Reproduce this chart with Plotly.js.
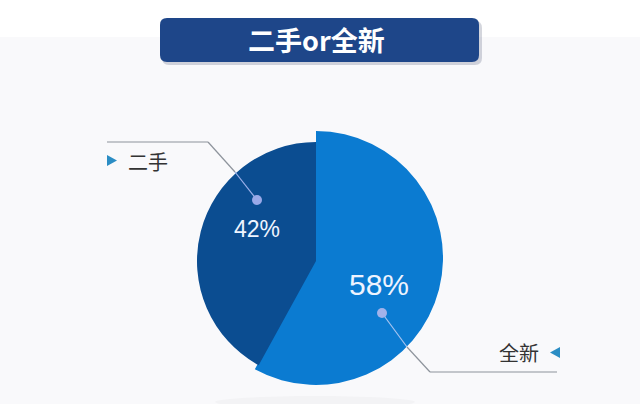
<!DOCTYPE html>
<html>
<head>
<meta charset="utf-8">
<script src="https://cdn.plot.ly/plotly-3.0.1.min.js"></script>
<style>html,body{margin:0;padding:0;background:#f9f9fb;}#chart{width:640px;height:404px;}</style>
</head>
<body>
<div id="chart"></div>
<script>
// ---- data ----
const chartTitle = '二手or全新';
const categories = ['全新', '二手'];
const values = [58, 42];
const sliceColors = ['#0b7bd1', '#0b4d91'];

// ---- helpers (pixel -> paper) ----
const W = 640, H = 404;
const X = px => px / W;
const Y = py => 1 - py / H;
function dom(cx, cy, r) {
  return { x: [X(cx - r), X(cx + r)], y: [Y(cy + r), Y(cy - r)] };
}

const traceOuter = {
  type: 'pie', labels: categories, values: values, sort: false,
  direction: 'clockwise', rotation: 0, textinfo: 'none', hoverinfo: 'skip',
  showlegend: false, domain: dom(316, 258, 127),
  marker: { colors: [sliceColors[0], 'rgba(0,0,0,0)'], line: { width: [0, 0], color: 'rgba(0,0,0,0)' } }
};
const traceInner = {
  type: 'pie', labels: categories, values: values, sort: false,
  direction: 'clockwise', rotation: 0, textinfo: 'none', hoverinfo: 'skip',
  showlegend: false, domain: dom(316, 261, 119),
  marker: { colors: ['rgba(0,0,0,0)', sliceColors[1]], line: { width: [0, 0], color: 'rgba(0,0,0,0)' } }
};

function seg(x0, y0, x1, y1, color, w) {
  return { type: 'line', xref: 'paper', yref: 'paper', x0: X(x0), y0: Y(y0), x1: X(x1), y1: Y(y1),
    line: { color: color, width: w || 1.2 }, layer: 'above' };
}
function dot(cx, cy, r, color) {
  return { type: 'circle', xref: 'paper', yref: 'paper', x0: X(cx - r), x1: X(cx + r), y0: Y(cy + r), y1: Y(cy - r),
    fillcolor: color, line: { width: 0 }, layer: 'above' };
}
function tri(pts, color) {
  const d = 'M ' + pts.map(p => X(p[0]) + ' ' + Y(p[1])).join(' L ') + ' Z';
  return { type: 'path', xref: 'paper', yref: 'paper', path: d, fillcolor: color, line: { width: 0 }, layer: 'above' };
}
function rrect(x0, y0, x1, y1, r, color) {
  const p = [
    'M', X(x0 + r), Y(y0), 'L', X(x1 - r), Y(y0), 'Q', X(x1), Y(y0), X(x1), Y(y0 + r),
    'L', X(x1), Y(y1 - r), 'Q', X(x1), Y(y1), X(x1 - r), Y(y1),
    'L', X(x0 + r), Y(y1), 'Q', X(x0), Y(y1), X(x0), Y(y1 - r),
    'L', X(x0), Y(y0 + r), 'Q', X(x0), Y(y0), X(x0 + r), Y(y0), 'Z'
  ].join(' ');
  return { type: 'path', xref: 'paper', yref: 'paper', path: p, fillcolor: color, line: { width: 0 }, layer: 'above' };
}

const shapes = [
  // white top band
  { type: 'rect', xref: 'paper', yref: 'paper', x0: 0, x1: 1, y0: Y(37), y1: 1, fillcolor: '#ffffff', line: { width: 0 }, layer: 'below' },
  // soft shadow under pie
  { type: 'circle', xref: 'paper', yref: 'paper', x0: X(215), x1: X(415), y0: Y(408), y1: Y(396), fillcolor: 'rgba(0,0,0,0.025)', line: { width: 0 }, layer: 'below' },
  // title box shadow + box
  rrect(162, 21, 482, 65, 7, 'rgba(60,70,100,0.22)'),
  rrect(160, 18, 479, 62, 7, '#1e4689'),
  // leader 二手
  seg(107, 142, 208, 142, '#8e949c'),
  seg(208, 142, 235, 172, '#8e949c'),
  seg(235, 172, 257, 200, '#9cb0ea'),
  dot(257, 200, 5, '#9aa9e8'),
  tri([[107, 155], [117, 160.5], [107, 166]], '#2b8dc4'),
  // leader 全新
  seg(382, 313, 407, 347, '#a8c4f0'),
  seg(407, 347, 430, 372, '#8e949c'),
  seg(430, 372, 557, 372, '#8e949c'),
  dot(382, 313, 5, '#a2b2ea'),
  tri([[560, 347], [550, 352.5], [560, 358]], '#2b8dc4')
];

const cjk = '"Noto Sans CJK SC", "Noto Sans", sans-serif';
const num = '"Liberation Sans", Arial, sans-serif';
const annotations = [
  { text: '<b>' + chartTitle + '</b>', x: X(316), y: Y(40), font: { family: cjk, size: 27, color: '#ffffff' } },
  { text: values[1] + '%', x: X(257), y: Y(229), font: { family: num, size: 23, color: '#eef4ff' } },
  { text: values[0] + '%', x: X(379), y: Y(284), font: { family: num, size: 30, color: '#eef4ff' } },
  { text: categories[1], x: X(148), y: Y(161), font: { family: cjk, size: 20, color: '#333333' } },
  { text: categories[0], x: X(519), y: Y(352), font: { family: cjk, size: 20, color: '#333333' } }
].map(a => Object.assign({ xref: 'paper', yref: 'paper', showarrow: false, xanchor: 'center', yanchor: 'middle' }, a));

const layout = {
  width: W, height: H, margin: { l: 0, r: 0, t: 0, b: 0 },
  paper_bgcolor: '#f9f9fb', plot_bgcolor: 'rgba(0,0,0,0)',
  showlegend: false, shapes: shapes, annotations: annotations
};

Plotly.newPlot('chart', [traceOuter, traceInner], layout, { displayModeBar: false, staticPlot: true });
</script>
</body>
</html>
